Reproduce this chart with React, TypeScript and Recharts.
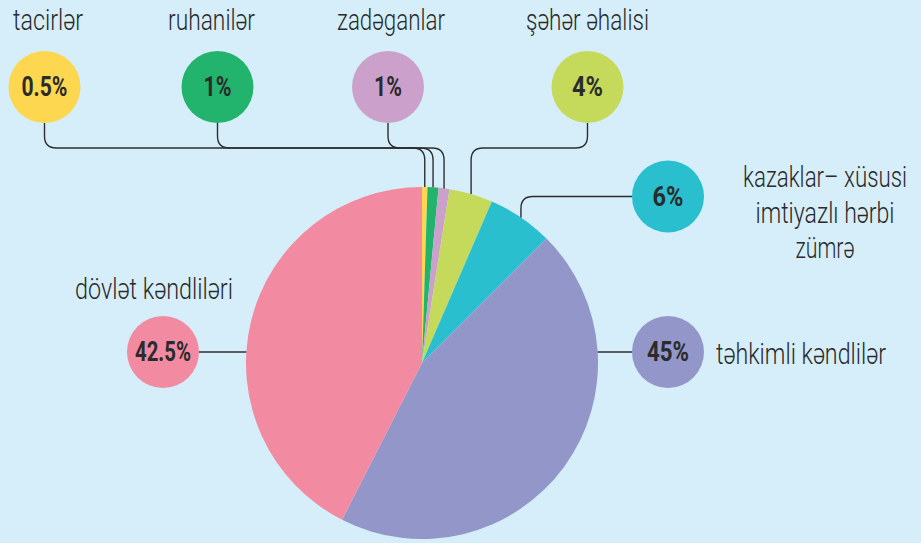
import React from 'react';
import { PieChart, Pie, Cell } from 'recharts';

const CATEGORIES = ['tacirlər', 'ruhanilər', 'zadəganlar', 'şəhər əhalisi', 'kazaklar– xüsusi imtiyazlı hərbi zümrə', 'təhkimli kəndlilər', 'dövlət kəndliləri'];
const SHARES = [0.5, 1, 1, 4, 6, 45, 42.5];
const PERCENT_LABELS = ['0.5%', '1%', '1%', '4%', '6%', '45%', '42.5%'];
// label text split into display lines
const LABEL_LINES = [['tacirlər'], ['ruhanilər'], ['zadəganlar'], ['şəhər əhalisi'], ['kazaklar– xüsusi', 'imtiyazlı hərbi', 'zümrə'], ['təhkimli kəndlilər'], ['dövlət kəndliləri']];

const COLORS = ['#fdd74f', '#22b36c', '#cba1cb', '#c5da5b', '#2abfcf', '#9296c9', '#f28aa1'];

// where each badge + caption sits, how wide the (condensed) text runs, and how its leader line is routed
const LAYOUT = [
  { bx: 44.5, by: 87, pw: 46, route: 'top', tx: 48, ty: 30, anchor: 'middle', tw: [70] },
  { bx: 217.5, by: 87, pw: 28, route: 'top', tx: 211.5, ty: 30, anchor: 'middle', tw: [87] },
  { bx: 388, by: 87, pw: 28, route: 'top', tx: 391, ty: 30, anchor: 'middle', tw: [108] },
  { bx: 587.5, by: 87, pw: 31, route: 'top', tx: 587.5, ty: 30, anchor: 'middle', tw: [123] },
  { bx: 668, by: 196.5, pw: 31, route: 'side', tx: 825, ty: 187, anchor: 'middle', tw: [164, 139, 59] },
  { bx: 668, by: 352, pw: 42, route: 'straight', tx: 716, ty: 364, anchor: 'start', tw: [170] },
  { bx: 163, by: 352, pw: 56, route: 'straight', tx: 154, ty: 299, anchor: 'middle', tw: [158] },
];

const BADGE_R = 36;
const BUS_Y = 148;
const CORNER = 12;
const RAD = Math.PI / 180;
const FONT = "Roboto, 'DejaVu Sans', sans-serif";

const data = CATEGORIES.map((name, i) => ({ name, value: SHARES[i] }));

const renderLabel = (props: any) => {
  const { cx, cy, midAngle, outerRadius, index } = props;
  const l = LAYOUT[index];
  let d = '';
  if (l.route === 'top') {
    const ax = cx + outerRadius * Math.cos(midAngle * RAD);
    const ay = cy - Math.sqrt(outerRadius * outerRadius - (ax - cx) * (ax - cx));
    const dir = ax > l.bx ? 1 : -1;
    d = `M${l.bx},${l.by + BADGE_R} L${l.bx},${BUS_Y - CORNER} Q${l.bx},${BUS_Y} ${l.bx + dir * CORNER},${BUS_Y} ` +
      `L${ax - dir * CORNER},${BUS_Y} Q${ax},${BUS_Y} ${ax},${BUS_Y + CORNER} L${ax},${ay}`;
  } else if (l.route === 'side') {
    const ax = cx + outerRadius * Math.cos(midAngle * RAD);
    const ay = cy - outerRadius * Math.sin(midAngle * RAD);
    d = `M${l.bx - BADGE_R},${l.by} L${ax + CORNER},${l.by} Q${ax},${l.by} ${ax},${l.by + CORNER} L${ax},${ay}`;
  } else {
    const dx = Math.sqrt(outerRadius * outerRadius - (l.by - cy) * (l.by - cy));
    const ax = l.bx > cx ? cx + dx : cx - dx;
    const sx = l.bx > cx ? l.bx - BADGE_R : l.bx + BADGE_R;
    d = `M${sx},${l.by} L${ax},${l.by}`;
  }
  return (
    <g key={`lbl-${index}`}>
      <path d={d} fill="none" stroke="#2e2e2e" strokeWidth={1.4} />
      <circle cx={l.bx} cy={l.by} r={BADGE_R} fill={COLORS[index]} />
      <text x={l.bx} y={l.by + 9} textAnchor="middle" textLength={l.pw} lengthAdjust="spacingAndGlyphs"
        fontFamily={FONT} fontWeight="bold" fontSize={27} fill="#2b2b2b">
        {PERCENT_LABELS[index]}
      </text>
      {LABEL_LINES[index].map((line, j) => (
        <text key={j} x={l.tx} y={l.ty + j * 35.5} textAnchor={l.anchor as any}
          textLength={l.tw[j]} lengthAdjust="spacingAndGlyphs"
          fontFamily={FONT} fontWeight={300} fontSize={29} fill="#2a2a2a">
          {line}
        </text>
      ))}
    </g>
  );
};

const App = () => {
  return (
    <div style={{ position: 'absolute', left: 0, top: 0, width: 921, height: 543, background: '#d5eef9' }}>
      <PieChart width={921} height={543} margin={{ top: 0, right: 0, bottom: 0, left: 0 }}>
        <Pie
          data={data}
          dataKey="value"
          cx={422}
          cy={363}
          outerRadius={176}
          startAngle={90}
          endAngle={-270}
          stroke="none"
          labelLine={false}
          label={renderLabel}
          isAnimationActive={false}
        >
          {data.map((entry, i) => (
            <Cell key={`cell-${i}`} fill={COLORS[i]} />
          ))}
        </Pie>
      </PieChart>
    </div>
  );
};

export default App;
